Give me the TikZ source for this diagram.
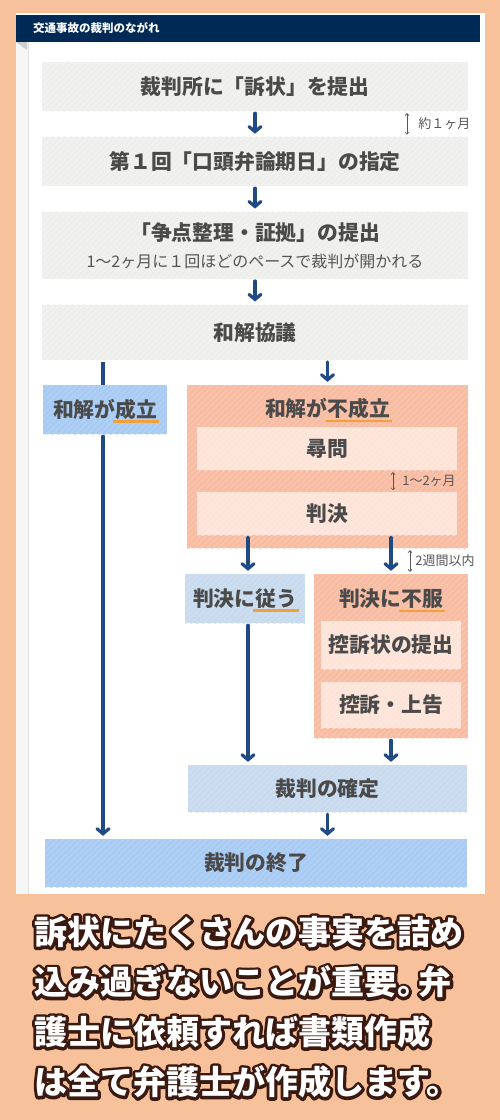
\documentclass[tikz,border=0pt]{standalone}
\usepackage{fontspec}
\setmainfont{Noto Sans CJK JP}
\usetikzlibrary{arrows.meta, positioning, patterns.meta}

\definecolor{pagebg}{HTML}{F7C29B}
\definecolor{headnavy}{HTML}{002A56}
\definecolor{stripgray}{HTML}{F6F6F6}
\definecolor{stripline}{HTML}{E2E2E2}
\definecolor{foldgray}{HTML}{CDCDCD}
\definecolor{boxgray}{HTML}{EEEEEC}
\definecolor{boxgrayln}{HTML}{F3F3F1}
\definecolor{textdark}{HTML}{4A4A4A}
\definecolor{notegray}{HTML}{555555}
\definecolor{arrownavy}{HTML}{1F4A85}
\definecolor{blueA}{HTML}{A8CBF4}
\definecolor{blueAln}{HTML}{B4D2F6}
\definecolor{blueB}{HTML}{C8DAEE}
\definecolor{blueBln}{HTML}{D0E0F1}
\definecolor{salmon}{HTML}{F8BCA3}
\definecolor{salmonln}{HTML}{FAC6AF}
\definecolor{salmonpale}{HTML}{FDE3D8}
\definecolor{salmonpaleln}{HTML}{FEE9DF}
\definecolor{ulorange}{HTML}{F2A03A}

% orange underline under a word
\newcommand{\orangeul}[1]{\setbox0\hbox{#1}\rlap{\smash{\kern-2pt\color{ulorange}\rule[-5.4pt]{\dimexpr\wd0+4pt\relax}{2.6pt}}}\box0}
% dark brown stroke behind white letters
\newcommand{\brownrim}[1]{\rlap{\special{pdf:literal direct 1 Tr 6 w 1 j 1 J 0.227 0.102 0.063 RG}#1\special{pdf:literal direct 0 Tr}}#1}

\begin{document}
\begin{tikzpicture}[x=1pt, y=-1pt, node distance=25.5pt,
  box/.style={inner sep=0pt, text=textdark, align=center,
    font=\bfseries\fontsize{20.8}{24}\selectfont},
  graybox/.style={box, fill=boxgray, minimum width=426pt,
    postaction={pattern={Lines[angle=45,distance=4pt,line width=1.4pt]}, pattern color=boxgrayln}},
  bluebox/.style={box, fill=blueA,
    postaction={pattern={Lines[angle=45,distance=4pt,line width=1.4pt]}, pattern color=blueAln}},
  paleblue/.style={box, fill=blueB,
    postaction={pattern={Lines[angle=45,distance=4pt,line width=1.4pt]}, pattern color=blueBln}},
  salmonbox/.style={box, fill=salmon,
    postaction={pattern={Lines[angle=45,distance=4pt,line width=1.4pt]}, pattern color=salmonln}},
  palebox/.style={box, fill=salmonpale,
    postaction={pattern={Lines[angle=45,distance=4pt,line width=1.4pt]}, pattern color=salmonpaleln}},
  flow/.style={draw=arrownavy, line width=3.2pt, line cap=round, shorten <=2pt, shorten >=3pt,
    -{Straight Barb[length=5pt,width=12pt,line cap=round]}},
  trunk/.style={draw=arrownavy, line width=3.2pt, shorten <=2pt},
  gapline/.style={draw=notegray, line width=0.6pt, shorten <=2pt, shorten >=2pt,
    {Straight Barb[length=2pt,width=4pt]}-{Straight Barb[length=2pt,width=4pt]}},
  note/.style={inner sep=0pt, text=notegray, font=\fontsize{13}{15}\selectfont},
  tipline/.style={inner sep=0pt, anchor=west, text=white,
    font=\bfseries\fontsize{33}{36}\selectfont}]

% page and panel
  \useasboundingbox (0,0) rectangle (500,1120);
  \fill[pagebg] (0,0) rectangle (500,1120);
  \fill[white] (16,13) rectangle (485,894);
  \fill[stripgray] (16,42) rectangle (28,894);
  \draw[stripline, line width=0.8pt] (28,42) -- (28,894);
  \fill[foldgray] (16,42) -- (27,42) -- (27,50) -- cycle;

% header
  \node[fill=headnavy, minimum width=464pt, minimum height=27pt, inner sep=0pt] (head) at (248,28.5) {};
  \node[inner sep=0pt, anchor=west, text=white, font=\bfseries\fontsize{11.5}{13}\selectfont]
    (headtitle) at (33,28.5) {交通事故の裁判のながれ};

% main column
  \node[graybox, minimum height=49pt] (b1) at (255,86.5) {裁判所に「訴状」を提出};
  \node[graybox, minimum height=49pt, below=of b1] (b2) {第１回「口頭弁論期日」の指定};
  \node[graybox, minimum height=67pt, below=of b2] (b3)
    {「争点整理・証拠」の提出\\[3pt]{\mdseries\color{notegray}\fontsize{16}{18}\selectfont 1〜2ヶ月に１回ほどのペースで裁判が開かれる}};
  \node[graybox, minimum height=55pt, below=of b3] (b4) {和解協議};

% settlement or not
  \node[bluebox, minimum width=124pt, minimum height=49pt] (seikou) at (105,409.5) {和解が\orangeul{成立}};
  \node[salmonbox, minimum width=281pt, minimum height=163pt] (fuseiritsu) at (327.5,466.5) {};
  \node[box] (fustitle) at (327.5,409) {和解が\orangeul{不成立}};
  \node[palebox, minimum width=260pt, minimum height=43pt] (jinmon) at (327,448.5) {尋問};
  \node[palebox, minimum width=260pt, minimum height=43pt, below=22pt of jinmon] (hanketsu) {判決};

% after the judgement
  \node[paleblue, minimum width=120pt, minimum height=49pt] (shitagau) at (245,598.5) {判決に\orangeul{従う}};
  \node[salmonbox, minimum width=154pt, minimum height=164pt] (fufuku) at (391,656) {};
  \node[box] (fuftitle) at (391,599) {判決に\orangeul{不服}};
  \node[palebox, minimum width=140pt, minimum height=48pt] (koso1) at (391,645) {控訴状の提出};
  \node[palebox, minimum width=140pt, minimum height=46pt] (koso2) at (391,705) {控訴・上告};
  \node[paleblue, minimum width=279pt, minimum height=47pt] (kakutei) at (327.5,788.5) {裁判の確定};
  \node[bluebox, minimum width=422pt, minimum height=48pt] (shuryo) at (256,863) {裁判の終了};

% links
  \coordinate (leftrail) at (103,0);
  \coordinate (midrail) at (248,0);
  \draw[flow] (b1) -- (b2);
  \draw[flow] (b2) -- (b3);
  \draw[flow] (b3) -- (b4);
  \draw[trunk] (b4.south -| leftrail) -- (seikou.north -| leftrail);
  \draw[flow] (seikou.south -| leftrail) -- (shuryo.north -| leftrail);
  \draw[flow] (b4.south -| fuseiritsu) -- (fuseiritsu.north);
  \draw[flow] (hanketsu.south -| midrail) -- (shitagau.north -| midrail);
  \draw[flow] (hanketsu.south -| fufuku) -- (fufuku.north);
  \draw[flow] (shitagau.south -| midrail) -- (kakutei.north -| midrail);
  \draw[flow] (fufuku.south) -- (kakutei.north -| fufuku);
  \draw[flow] (kakutei.south) -- (shuryo.north -| kakutei);

% time notes
  \coordinate (gapA) at (407,0);
  \coordinate (gapB) at (393,0);
  \coordinate (gapC) at (410,0);
  \draw[gapline] (b1.south -| gapA) -- node[note, right=11pt] (noteA) {約１ヶ月} (b2.north -| gapA);
  \draw[gapline] (jinmon.south -| gapB) -- node[note, right=9pt] (noteB) {1〜2ヶ月} (hanketsu.north -| gapB);
  \draw[gapline] (fuseiritsu.south -| gapC) -- node[note, right=5pt] (noteC) {2週間以内} (fufuku.north -| gapC);

% caption under the panel
  \foreach \i/\tiptext in {1/{訴状にたくさんの事実を詰め},
                           2/{込み過ぎないことが重要。\kern-.35em 弁},
                           3/{護士に依頼すれば書類作成},
                           4/{は全て弁護士が作成します。}}
    \node[tipline] (tip\i) at (34,{932+50*(\i-1)}) {\brownrim{\tiptext}};

\end{tikzpicture}
\end{document}
